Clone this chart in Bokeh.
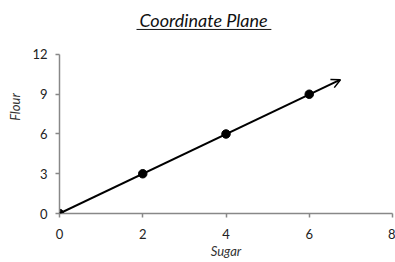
from bokeh.plotting import figure
from bokeh.models import Range1d, Label, Arrow, OpenHead, FixedTicker
from bokeh.embed import file_html
from bokeh.resources import INLINE

# data
sugar = [0, 2, 4, 6]
flour = [0, 3, 6, 9]
arrow_end = (6.75, 10.1)
x_ticks = [0, 2, 4, 6, 8]
y_ticks = [0, 3, 6, 9, 12]
title_text = "Coordinate Plane"
x_label = "Sugar"
y_label = "Flour"

FONT = "Lato"

# frame spans from the top of the figure down to the x axis; the y axis stops at 12
p = figure(width=395, height=262, output_backend="svg", toolbar_location=None,
           x_range=Range1d(0, 8), y_range=Range1d(0, 16.075),
           min_border_left=59, min_border_right=3, min_border_top=0, min_border_bottom=49)
p.outline_line_color = None
p.grid.grid_line_color = None
p.background_fill_color = "white"
p.border_fill_color = "white"

for ax, ticks in ((p.xaxis, x_ticks), (p.yaxis, y_ticks)):
    ax.ticker = FixedTicker(ticks=ticks)
    ax.minor_tick_line_color = None
    ax.axis_line_color = "#888888"
    ax.axis_line_width = 1.5
    ax.major_tick_line_color = "#888888"
    ax.major_tick_line_width = 1.5
    ax.major_tick_in = 0
    ax.major_tick_out = 4
    ax.major_label_text_font = FONT
    ax.major_label_text_font_size = "13px"
    ax.major_label_text_color = "#222222"
    ax.axis_label_text_font = FONT
    ax.axis_label_text_font_size = "13px"
    ax.axis_label_text_font_style = "italic"
    ax.axis_label_text_color = "#333333"

p.yaxis.bounds = (y_ticks[0], y_ticks[-1])
p.xaxis.axis_label = x_label
p.yaxis.axis_label = y_label
p.xaxis.major_label_standoff = 11
p.xaxis.axis_label_standoff = 1
p.yaxis.major_label_standoff = 8
p.yaxis.axis_label_standoff = 6

p.add_layout(Arrow(end=OpenHead(size=9, line_width=1.5, line_color="black"),
                   x_start=sugar[0], y_start=flour[0],
                   x_end=arrow_end[0], y_end=arrow_end[1],
                   line_width=2, line_color="black"))
p.scatter(sugar, flour, size=8.5, color="black")

# title with underline, placed in the empty area above the plot
p.add_layout(Label(x=3.46, y=14.57, text=title_text,
                   text_font=FONT, text_font_size="18px", text_font_style="italic",
                   text_align="center", text_baseline="middle", text_color="#111111"))
p.add_layout(Arrow(end=None, x_start=1.85, y_start=13.89, x_end=5.09, y_end=13.89,
                   line_width=1, line_color="#111111"))

open("out.html", "w").write(file_html(p, INLINE))
